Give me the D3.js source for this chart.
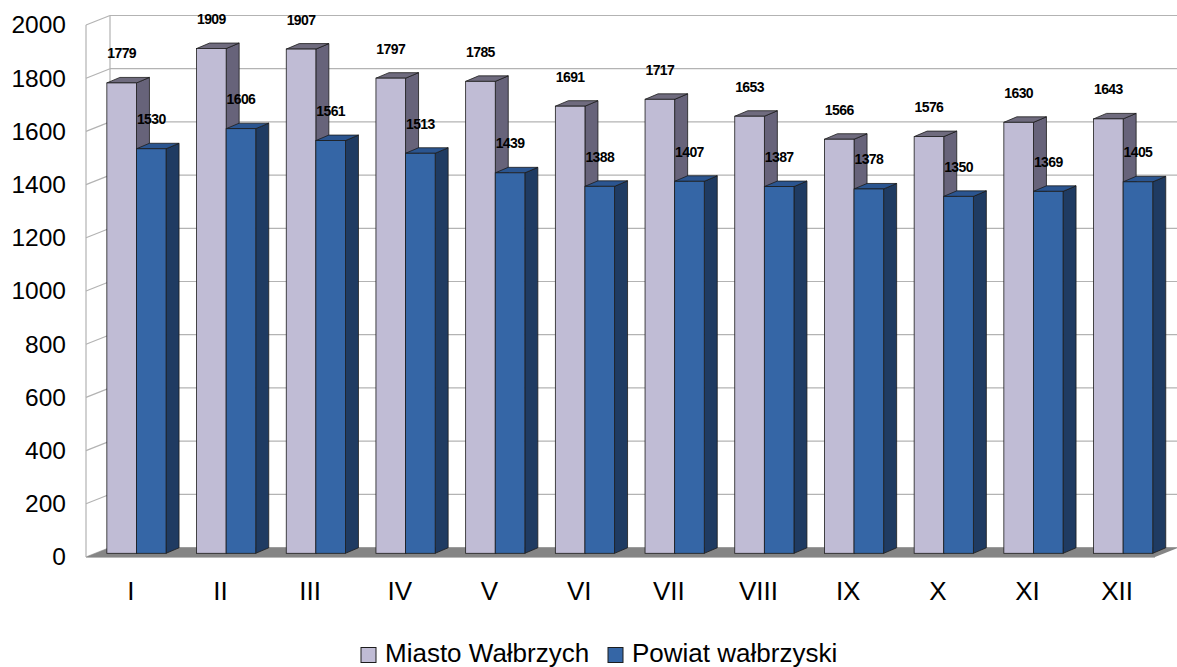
<!DOCTYPE html>
<html><head><meta charset="utf-8">
<script src="https://cdn.jsdelivr.net/npm/d3@7"></script>
<style>body{margin:0;background:#fff;} svg{display:block;font-family:"Liberation Sans",Arial,sans-serif;}</style>
</head><body>
<svg id="c" width="1177" height="667"></svg>
<script>
const categories = ["I","II","III","IV","V","VI","VII","VIII","IX","X","XI","XII"];
const seriesNames = ["Miasto Wałbrzych","Powiat wałbrzyski"];
const miasto = [1779,1909,1907,1797,1785,1691,1717,1653,1566,1576,1630,1643];
const powiat = [1530,1606,1561,1513,1439,1388,1407,1387,1378,1350,1369,1405];
const yTicks = [0,200,400,600,800,1000,1200,1400,1600,1800,2000];

const svg = d3.select("#c");
const colors = [
  {front:"#c0bcd5", top:"#6f6b7e", side:"#67637a"},
  {front:"#3566a6", top:"#2b5590", side:"#1f3b62"}
];
const series = [miasto, powiat];

// wall geometry
const yF = d3.scaleLinear().domain([0,2000]).range([557,25]);
const dX = 24, dY = -9.5;
const xFront0 = 86, xFront1 = 1155;
const grid = "#b3b3b3";

// back wall grid
yTicks.forEach(v=>{
  svg.append("line").attr("x1",xFront0+dX).attr("x2",1177).attr("y1",yF(v)+dY).attr("y2",yF(v)+dY)
    .attr("stroke",grid).attr("stroke-width",1.2);
  svg.append("line").attr("x1",xFront0).attr("x2",xFront0+dX).attr("y1",yF(v)).attr("y2",yF(v)+dY)
    .attr("stroke",grid).attr("stroke-width",1.2);
});
svg.append("line").attr("x1",xFront0+dX).attr("x2",xFront0+dX).attr("y1",yF(2000)+dY).attr("y2",yF(0)+dY).attr("stroke",grid).attr("stroke-width",1.2);
svg.append("line").attr("x1",xFront0).attr("x2",xFront0).attr("y1",yF(2000)).attr("y2",yF(0)).attr("stroke",grid).attr("stroke-width",1.2);

// floor
svg.append("polygon")
  .attr("points",[[xFront0,yF(0)],[xFront1,yF(0)],[xFront1+dX,yF(0)+dY],[xFront0+dX,yF(0)+dY]].map(p=>p.join(",")).join(" "))
  .attr("fill","#858585");
svg.append("line").attr("x1",xFront0).attr("x2",xFront1).attr("y1",yF(0)+0.5).attr("y2",yF(0)+0.5).attr("stroke","#b8b8b8").attr("stroke-width",1);

// y axis labels
svg.append("g").selectAll("text").data(yTicks).join("text")
  .attr("x",66).attr("y",d=>yF(d)+2).attr("text-anchor","end").attr("dominant-baseline","middle")
  .attr("font-size",24.5).attr("fill","#000").text(d=>d);

// category labels (front plane)
const xCat = d3.scaleBand().domain(categories).range([86,1162]);
svg.append("g").selectAll("text").data(categories).join("text")
  .attr("x",d=>xCat(d)+xCat.bandwidth()/2).attr("y",600).attr("text-anchor","middle")
  .attr("font-size",26).attr("fill","#000").text(d=>d);

// bars
const yBar = d3.scaleLinear().domain([0,2000]).range([553.3,24.5]);
const xBand = d3.scaleBand().domain(categories).range([91.6,1168]).paddingInner(0.34).paddingOuter(0.17);
const xSub = d3.scaleBand().domain([0,1]).range([0,xBand.bandwidth()]);
const bdx = 13, bdy = -5.5;
const stroke = "#1c1c1c", sw = 0.8;
const pts = a=>a.map(p=>p.join(",")).join(" ");

const gBars = svg.append("g");
categories.forEach((c,i)=>{
  [0,1].forEach(s=>{
    const v = series[s][i];
    const x = xBand(c)+xSub(s), w = xSub.bandwidth();
    const yt = yBar(v), yb = yBar(0);
    const g = gBars.append("g");
    g.append("polygon").attr("points",pts([[x+w,yt],[x+w+bdx,yt+bdy],[x+w+bdx,yb+bdy],[x+w,yb]]))
      .attr("fill",colors[s].side).attr("stroke",stroke).attr("stroke-width",sw).attr("stroke-linejoin","round");
    g.append("polygon").attr("points",pts([[x,yt],[x+w,yt],[x+w+bdx,yt+bdy],[x+bdx,yt+bdy]]))
      .attr("fill",colors[s].top).attr("stroke",stroke).attr("stroke-width",sw).attr("stroke-linejoin","round");
    g.append("rect").attr("x",x).attr("y",yt).attr("width",w).attr("height",yb-yt)
      .attr("fill",colors[s].front).attr("stroke",stroke).attr("stroke-width",sw);
  });
});

// value labels
const gLab = svg.append("g");
categories.forEach((c,i)=>{
  [0,1].forEach(s=>{
    const v = series[s][i];
    const x = xBand(c)+xSub(s), w = xSub.bandwidth();
    gLab.append("text").attr("x",x+w/2).attr("y",yBar(v)-24.5).attr("text-anchor","middle")
      .attr("font-size",14).attr("font-weight","bold").attr("letter-spacing","-0.6").attr("fill","#000").text(v);
  });
});

// legend
const leg = [{x:361,tx:385},{x:608,tx:632}];
seriesNames.forEach((n,s)=>{
  svg.append("rect").attr("x",leg[s].x).attr("y",647.5).attr("width",15).attr("height",15)
    .attr("fill",colors[s].front).attr("stroke","#1c1c1c").attr("stroke-width",1);
  svg.append("text").attr("x",leg[s].tx).attr("y",661.5).attr("font-size",26).attr("fill","#000").text(n);
});
</script>
</body></html>
